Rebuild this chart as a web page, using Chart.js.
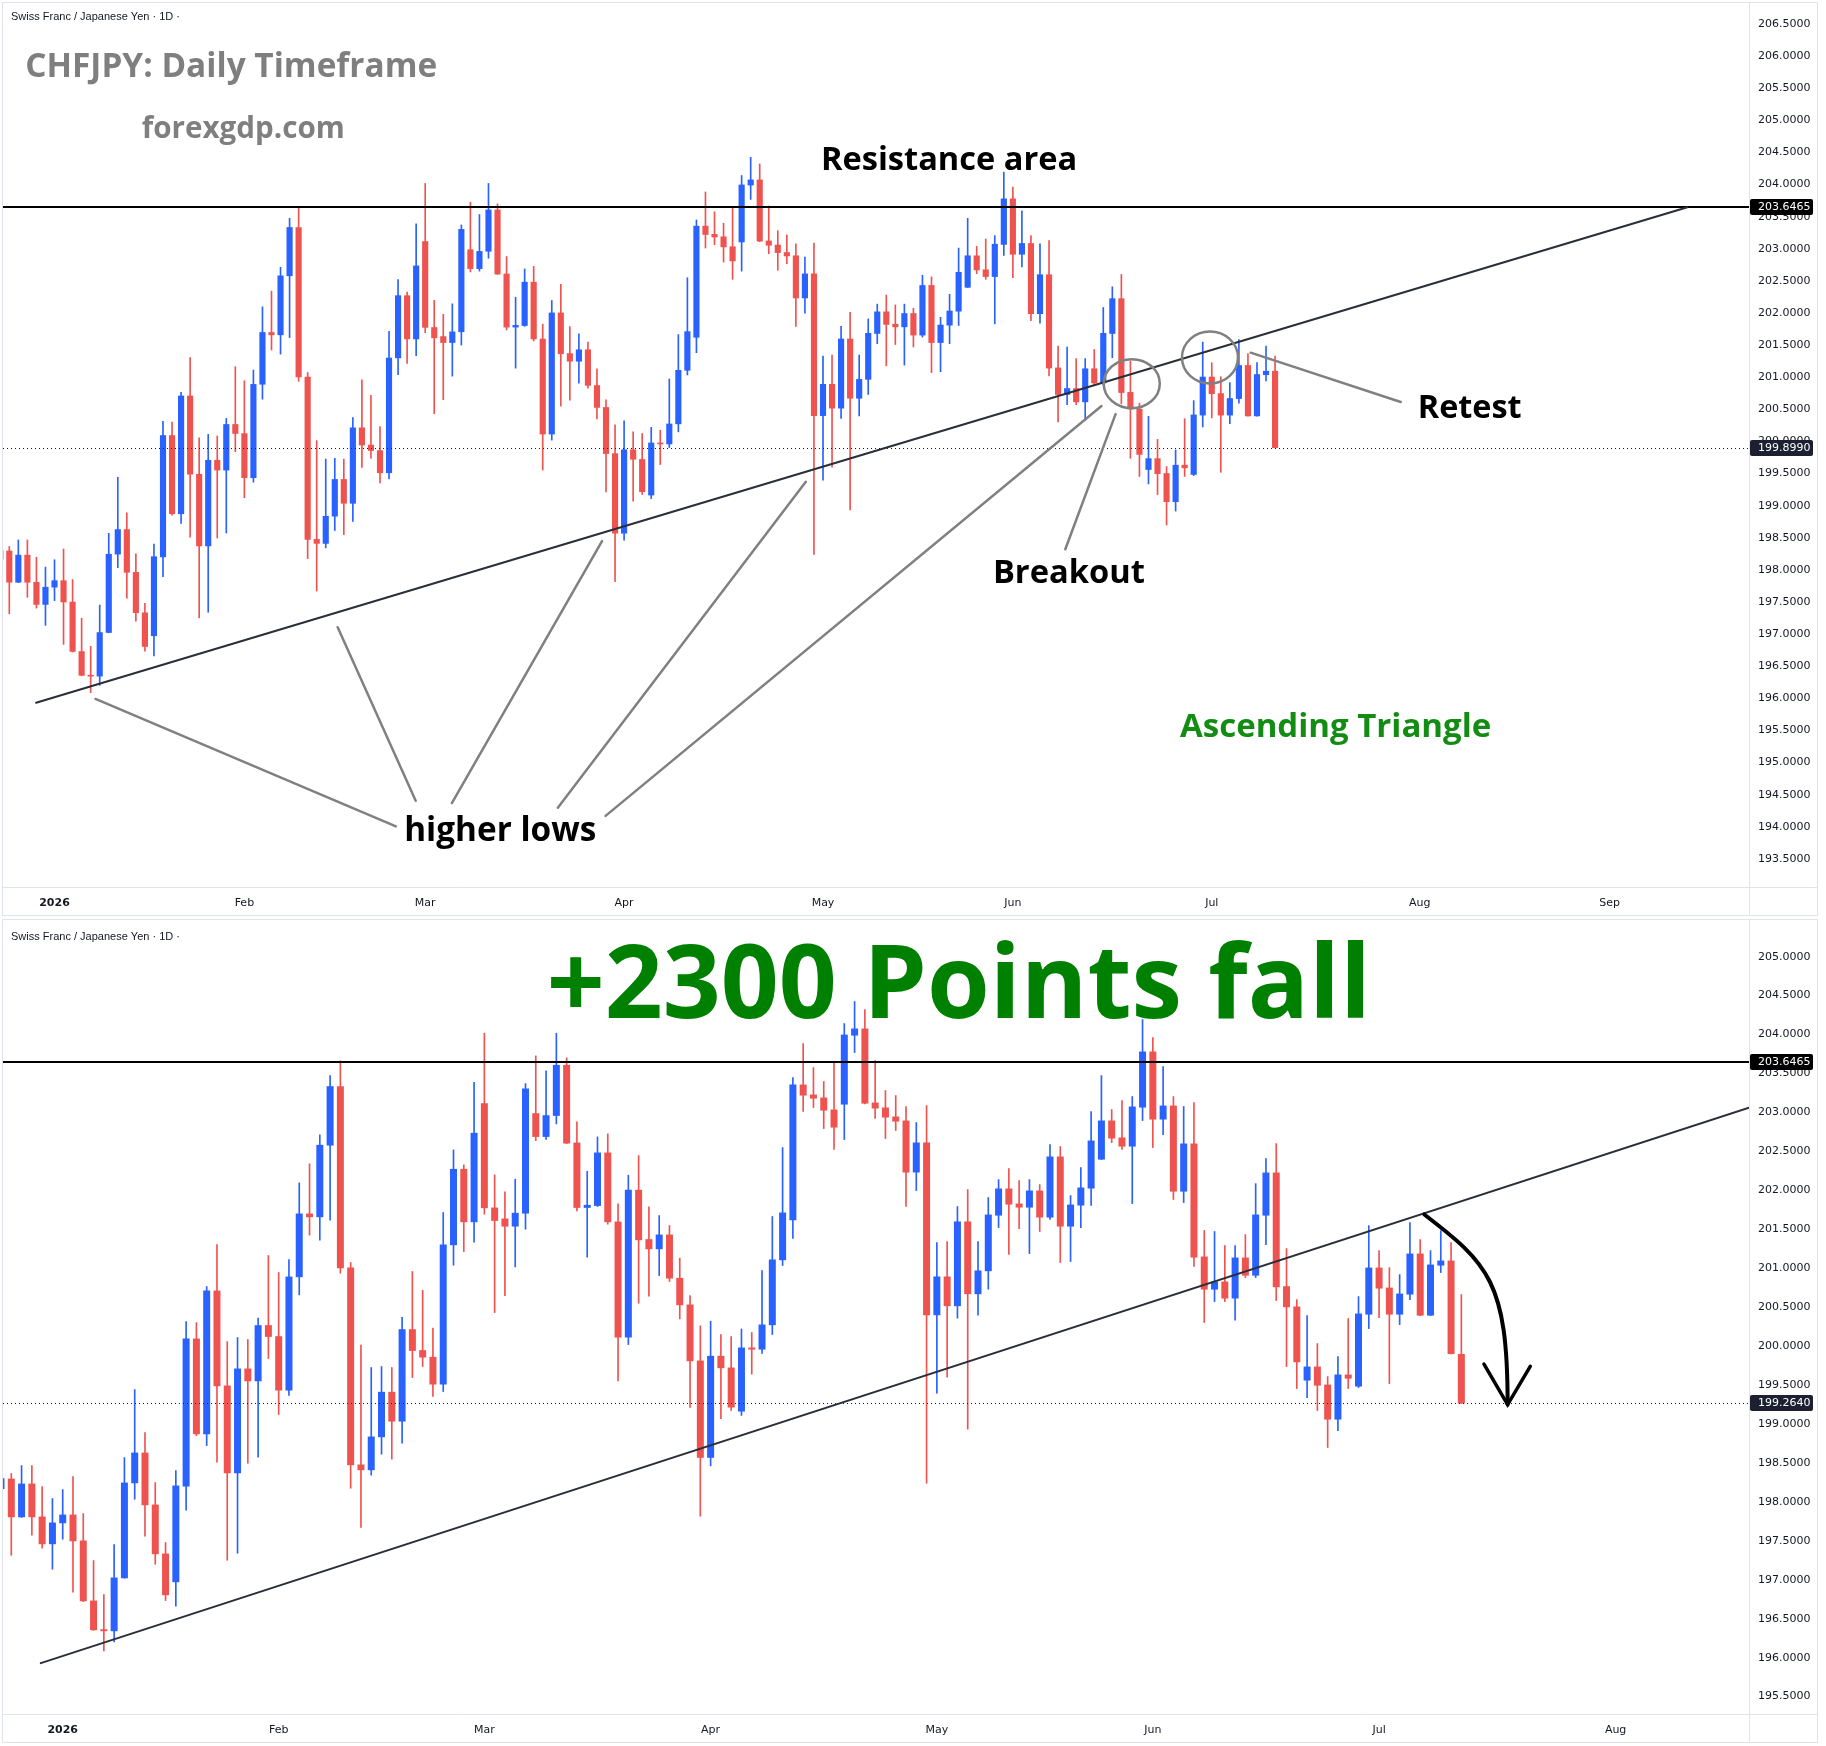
<!DOCTYPE html>
<html>
<head>
<meta charset="utf-8">
<script src="https://cdn.jsdelivr.net/npm/chart.js@4.4.1/dist/chart.umd.min.js"></script>
<style>
  html, body { margin: 0; padding: 0; background: #fff; }
  .panel { position: absolute; left: 2px; border: 1px solid #e0e3eb; }
  #p1 { top: 2px; }
  #p2 { top: 919px; }
  canvas { display: block; }
</style>
</head>
<body>
<div class="panel" id="p1"><canvas id="c1" width="1814" height="912"></canvas></div>
<div class="panel" id="p2"><canvas id="c2" width="1814" height="822"></canvas></div>
<script>
// CHFJPY daily candles, Dec 23 2025 .. Jul 13 2026 (trading days, index 0..142)
const opens = [
  198.167, 198.299, 197.803, 198.235, 197.812, 197.457, 197.726, 197.837, 197.504, 196.733,
  196.365, 196.340, 197.020, 198.240, 198.633, 197.966, 197.337, 196.969, 198.197, 200.097,
  198.869, 200.713, 199.494, 198.368, 199.712, 199.549, 200.269, 200.127, 199.430, 200.885,
  201.702, 201.655, 202.575, 203.337, 201.009, 198.480, 198.407, 198.831, 199.413, 199.032,
  200.217, 199.948, 199.862, 199.507, 201.296, 202.275, 201.591, 203.118, 201.779, 201.638,
  201.535, 201.702, 202.990, 202.686, 202.956, 203.610, 202.613, 201.775, 201.800, 202.485,
  201.599, 200.110, 202.006, 201.373, 201.244, 201.432, 200.876, 200.534, 199.815, 198.566,
  199.875, 199.725, 199.160, 199.982, 199.956, 200.269, 201.103, 201.617, 203.358, 203.230,
  203.191, 203.037, 203.101, 203.987, 204.077, 203.127, 203.063, 202.947, 202.896, 202.229,
  202.614, 200.397, 200.894, 200.513, 201.600, 200.667, 200.962, 201.676, 202.023, 201.830,
  201.779, 201.997, 201.651, 202.434, 201.535, 201.805, 202.023, 202.395, 202.896, 202.678,
  202.562, 203.063, 203.782, 202.909, 203.088, 201.984, 202.601, 201.150, 200.726, 200.829,
  200.611, 201.137, 200.905, 201.676, 202.228, 200.769, 200.508, 199.558, 199.737, 199.506,
  199.057, 199.635, 199.481, 200.405, 201.008, 200.751, 200.405, 200.662, 201.188, 200.392,
  201.034, 201.098, 199.899
];
const highs = [
  198.350, 198.364, 198.466, 198.466, 198.197, 198.043, 198.158, 198.325, 197.850, 197.247,
  196.810, 197.452, 198.569, 199.442, 198.890, 198.248, 197.478, 198.402, 200.315, 200.302,
  200.764, 201.304, 200.058, 200.110, 200.084, 200.359, 201.163, 200.945, 201.112, 202.096,
  202.340, 202.712, 203.474, 203.662, 201.073, 200.012, 199.725, 199.738, 199.725, 200.371,
  200.958, 200.718, 200.230, 201.715, 202.519, 202.327, 203.388, 204.017, 202.198, 201.980,
  202.143, 203.371, 203.726, 203.533, 204.017, 203.700, 202.879, 202.245, 202.686, 202.725,
  201.826, 202.194, 202.446, 201.787, 201.676, 201.548, 201.129, 200.649, 200.260, 200.320,
  200.149, 200.123, 200.220, 200.175, 200.971, 201.664, 202.549, 203.448, 203.884, 203.576,
  203.397, 203.653, 204.141, 204.424, 204.321, 203.666, 203.281, 203.217, 203.076, 202.870,
  203.089, 201.330, 201.343, 201.792, 202.010, 201.343, 201.908, 202.138, 202.280, 202.126,
  202.138, 202.074, 202.588, 202.562, 201.933, 202.292, 203.011, 203.473, 203.037, 203.152,
  203.204, 204.192, 203.961, 203.589, 203.204, 203.076, 203.127, 201.484, 201.471, 201.291,
  201.291, 201.432, 202.086, 202.407, 202.600, 201.252, 200.597, 200.392, 200.033, 199.609,
  199.866, 200.354, 200.636, 201.547, 201.226, 201.008, 200.918, 201.586, 201.368, 201.226,
  201.483, 201.329, 200.662
];
const lows = [
  198.100, 197.315, 197.800, 197.572, 197.405, 197.136, 197.521, 196.840, 196.720, 196.350,
  196.087, 196.203, 197.020, 198.034, 197.559, 197.200, 196.733, 196.661, 197.893, 198.850,
  198.723, 198.509, 197.251, 197.341, 198.496, 198.574, 199.841, 199.122, 199.366, 200.658,
  201.424, 201.360, 201.617, 200.936, 198.176, 197.671, 198.343, 198.613, 198.549, 198.754,
  199.597, 199.738, 199.353, 199.417, 201.039, 201.214, 201.334, 201.694, 200.431, 200.649,
  201.017, 201.501, 202.639, 202.652, 202.853, 202.600, 201.736, 201.141, 201.792, 201.565,
  199.554, 200.020, 200.551, 200.641, 200.906, 200.829, 200.350, 199.212, 197.817, 198.463,
  199.070, 199.173, 199.110, 199.640, 199.905, 200.149, 201.035, 201.381, 203.012, 203.063,
  202.793, 202.524, 202.652, 203.769, 203.110, 202.922, 202.665, 202.768, 201.792, 201.997,
  198.240, 199.396, 199.601, 200.359, 198.934, 200.397, 200.731, 201.522, 201.176, 201.509,
  201.188, 201.471, 201.625, 201.073, 201.086, 201.522, 201.805, 202.395, 202.613, 202.524,
  201.830, 202.896, 202.549, 202.716, 201.882, 201.843, 201.022, 200.303, 200.572, 200.572,
  200.332, 200.880, 200.880, 201.303, 200.585, 199.737, 199.455, 199.339, 199.173, 198.698,
  198.916, 199.455, 199.468, 200.225, 200.366, 199.519, 200.276, 200.597, 200.392, 200.392,
  200.944, 199.899, 199.264
];
const closes = [
  198.304, 197.803, 198.235, 197.803, 197.457, 197.735, 197.837, 197.495, 196.725, 196.353,
  196.340, 197.029, 198.248, 198.633, 197.957, 197.328, 196.802, 198.210, 200.097, 198.869,
  200.713, 199.485, 198.368, 199.712, 199.549, 200.269, 200.119, 199.430, 200.893, 201.702,
  201.655, 202.584, 203.337, 201.000, 198.471, 198.407, 198.839, 199.413, 199.032, 200.217,
  199.939, 199.854, 199.507, 201.304, 202.275, 201.591, 202.738, 201.771, 201.608, 201.535,
  201.711, 203.307, 202.686, 202.964, 203.610, 202.601, 201.775, 201.813, 202.485, 201.591,
  200.110, 202.006, 201.360, 201.244, 201.432, 200.868, 200.525, 199.806, 198.566, 199.875,
  199.717, 199.212, 199.982, 199.956, 200.277, 201.112, 201.715, 203.358, 203.217, 203.178,
  203.024, 202.806, 203.999, 204.077, 203.114, 203.050, 202.935, 202.883, 202.229, 202.614,
  200.397, 200.894, 200.513, 201.600, 200.667, 200.971, 201.689, 202.023, 201.817, 201.779,
  201.997, 201.651, 202.434, 201.535, 201.817, 202.036, 202.639, 202.896, 202.665, 202.562,
  203.076, 203.782, 202.909, 203.088, 201.984, 202.601, 201.137, 200.726, 200.829, 200.611,
  201.137, 200.905, 201.689, 202.228, 200.756, 200.499, 199.793, 199.737, 199.493, 199.057,
  199.635, 199.583, 200.418, 201.008, 200.739, 200.405, 200.674, 201.188, 200.392, 201.047,
  201.098, 199.899, 199.264
];

// month ticks (trading-day index of the first bar of each month)
const monthTickIdx = [6, 27, 47, 69, 91, 112, 134, 157, 178];
const monthTickLabels = ['2026', 'Feb', 'Mar', 'Apr', 'May', 'Jun', 'Jul', 'Aug', 'Sep'];

const topPriceTicks = [193.5, 194.0, 194.5, 195.0, 195.5, 196.0, 196.5, 197.0, 197.5, 198.0,
  198.5, 199.0, 199.5, 200.0, 200.5, 201.0, 201.5, 202.0, 202.5, 203.0, 203.5, 204.0, 204.5,
  205.0, 205.5, 206.0, 206.5];
const bottomPriceTicks = [195.5, 196.0, 196.5, 197.0, 197.5, 198.0, 198.5, 199.0, 199.5, 200.0,
  200.5, 201.0, 201.5, 202.0, 202.5, 203.0, 203.5, 204.0, 204.5, 205.0];

const resistance = 203.6465;

const BLUE = '#2962ff', RED = '#ef5350';
const HEADER = 'Swiss Franc / Japanese Yen \u00b7 1D \u00b7';

function fitFont(ctx, text, width, weight, family) {
  ctx.font = weight + ' 100px "' + family + '"';
  const w = ctx.measureText(text).width;
  return weight + ' ' + (100 * width / w).toFixed(1) + 'px "' + family + '"';
}

function overlay(d) {
  return {
    id: 'overlay',
    afterDatasetsDraw(chart) {
      const { ctx, chartArea: a } = chart;
      const X = v => chart.scales.x.getPixelForValue(v);
      const Y = v => chart.scales.y.getPixelForValue(v);
      const line = (pts, color, w) => {
        ctx.strokeStyle = color; ctx.lineWidth = w;
        ctx.beginPath();
        pts.forEach(([i, p], k) => k ? ctx.lineTo(X(i), Y(p)) : ctx.moveTo(X(i), Y(p)));
        ctx.stroke();
      };
      ctx.save();
      ctx.beginPath();
      ctx.rect(a.left, a.top, a.right - a.left, a.bottom - a.top);
      ctx.clip();

      // last price line
      const ly = Math.round(Y(d.last)) + 0.5;
      ctx.setLineDash([1, 3]);
      ctx.strokeStyle = '#131722'; ctx.lineWidth = 1;
      ctx.beginPath(); ctx.moveTo(a.left, ly); ctx.lineTo(a.right, ly); ctx.stroke();
      ctx.setLineDash([]);

      // resistance
      const ry = Math.round(Y(resistance));
      ctx.strokeStyle = '#000'; ctx.lineWidth = 2;
      ctx.beginPath(); ctx.moveTo(a.left, ry); ctx.lineTo(a.right, ry); ctx.stroke();

      // rising trend line
      ctx.lineCap = 'round';
      line(d.trend, '#2a2e39', 2);

      // gray pointers
      d.pointers.forEach(p => line(p, '#808080', 2.5));
      d.circles.forEach(([i, p, rx, ry2]) => {
        ctx.strokeStyle = '#808080'; ctx.lineWidth = 2.5;
        ctx.beginPath(); ctx.ellipse(X(i), Y(p), rx, ry2, 0, 0, Math.PI * 2); ctx.stroke();
      });

      // arrow
      if (d.arrow) {
        const [s, c1, c2, e] = d.arrow.curve;
        ctx.strokeStyle = '#000'; ctx.lineWidth = 4;
        ctx.beginPath();
        ctx.moveTo(X(s[0]), Y(s[1]));
        ctx.bezierCurveTo(X(c1[0]), Y(c1[1]), X(c2[0]), Y(c2[1]), X(e[0]), Y(e[1]));
        ctx.stroke();
        line(d.arrow.head, '#000', 3.5);
      }
      ctx.restore();

      // texts
      ctx.save();
      ctx.textAlign = 'center';
      ctx.textBaseline = 'alphabetic';
      d.texts.forEach(([t, i, p, w, color]) => {
        ctx.font = fitFont(ctx, t, w, 'bold', 'Open Sans');
        ctx.fillStyle = color;
        ctx.fillText(t, X(i), Y(p));
      });
      ctx.restore();
    },
    afterDraw(chart) {
      const { ctx, chartArea: a, width, height } = chart;
      const Y = v => chart.scales.y.getPixelForValue(v);
      ctx.save();
      ctx.strokeStyle = '#e0e3eb'; ctx.lineWidth = 1;
      ctx.beginPath();
      ctx.moveTo(a.right + 0.5, 0); ctx.lineTo(a.right + 0.5, height);
      ctx.moveTo(0, a.bottom + 0.5); ctx.lineTo(width, a.bottom + 0.5);
      ctx.stroke();

      const box = (price, bg) => {
        const y = Math.round(Y(price));
        ctx.fillStyle = bg;
        ctx.beginPath();
        ctx.roundRect(a.right + 1, y - 8, 63, 16, 2);
        ctx.fill();
        ctx.fillStyle = '#fff';
        ctx.font = '11px "DejaVu Sans"';
        ctx.textAlign = 'left'; ctx.textBaseline = 'middle';
        ctx.fillText(price.toFixed(4), a.right + 9, y + 0.5);
      };
      box(resistance, '#000');
      box(d.last, '#1c2030');

      ctx.fillStyle = '#131722';
      ctx.font = '11px "Liberation Sans"';
      ctx.textAlign = 'left'; ctx.textBaseline = 'middle';
      ctx.fillText(HEADER, 8, d.padTop + 14);
      ctx.restore();
    }
  };
}

function buildChart(id, cfg) {
  const idx = Array.from({ length: cfg.count }, (_, i) => i);
  const colors = idx.map(i => closes[i] >= opens[i] ? BLUE : RED);
  return new Chart(document.getElementById(id), {
    type: 'bar',
    data: {
      datasets: [
        {
          data: idx.map(i => ({ x: i, y: [opens[i], closes[i]] })),
          backgroundColor: colors, borderWidth: 0, grouped: false,
          barPercentage: 0.68, categoryPercentage: 1, minBarLength: 1, order: 1
        },
        {
          data: idx.map(i => ({ x: i, y: [lows[i], highs[i]] })),
          backgroundColor: colors, borderWidth: 0, grouped: false,
          barThickness: 1, order: 2
        }
      ]
    },
    options: {
      responsive: false,
      animation: false,
      devicePixelRatio: 1,
      events: [],
      layout: { autoPadding: false, padding: { top: cfg.padTop, left: 0, right: 0, bottom: 0 } },
      plugins: { legend: { display: false }, tooltip: { enabled: false } },
      scales: {
        x: {
          type: 'linear', min: cfg.xMin, max: cfg.xMax, offset: false,
          grid: { display: false, drawTicks: false }, border: { display: false },
          afterBuildTicks: s => { s.ticks = monthTickIdx.filter(v => v <= cfg.xMax).map(v => ({ value: v })); },
          afterFit: s => { s.height = 28; s.paddingLeft = 0; s.paddingRight = 0; s.paddingTop = 0; s.paddingBottom = 0; },
          ticks: {
            autoSkip: false, maxRotation: 0, padding: 10, color: '#131722',
            font: c => ({ family: 'DejaVu Sans', size: 11, weight: c.tick && c.tick.value === 6 ? 'bold' : 'normal' }),
            callback: v => monthTickLabels[monthTickIdx.indexOf(v)]
          }
        },
        y: {
          type: 'linear', position: 'right', min: cfg.yMin, max: cfg.yMax, beginAtZero: false,
          grid: { display: false, drawTicks: false }, border: { display: false },
          afterBuildTicks: s => { s.ticks = cfg.yTicks.map(v => ({ value: v })); },
          afterFit: s => { s.width = 68; s.paddingTop = 0; s.paddingBottom = 0; s.paddingLeft = 0; s.paddingRight = 0; },
          ticks: { padding: 9, color: '#131722', font: { family: 'DejaVu Sans', size: 11 }, callback: v => v.toFixed(4) }
        }
      }
    },
    plugins: [overlay(cfg)]
  });
}

const GRAY = '#7f7f7f', INK = '#000', GREEN = '#008000', GREEN2 = '#138c13';

buildChart('c1', {
  count: 142, last: closes[141], padTop: 0,
  xMin: 0.303, xMax: 193.42, yMin: 193.062, yMax: 206.827, yTicks: topPriceTicks,
  trend: [[3.96, 195.93], [186.6, 203.6465]],
  pointers: [
    [[43.76, 194.006], [10.53, 195.99]],
    [[45.95, 194.405], [37.32, 197.107]],
    [[49.95, 194.369], [66.56, 198.448]],
    [[61.67, 194.296], [89.10, 199.373]],
    [[66.95, 194.169], [121.8, 200.552]],
    [[117.8, 198.321], [123.36, 200.425]],
    [[138.3, 201.382], [154.9, 200.615]]
  ],
  circles: [[125.15, 200.90, 28, 24.5], [133.8, 201.306, 28, 26]],
  texts: [
    ['CHFJPY: Daily Timeframe', 25.54, 205.680, 412, GRAY],
    ['forexgdp.com', 26.88, 204.731, 203, GRAY],
    ['Resistance area', 104.94, 204.228, 256, INK],
    ['Retest', 162.53, 200.366, 104, INK],
    ['Breakout', 118.2, 197.801, 152, INK],
    ['Ascending Triangle', 147.7, 195.396, 311, GREEN2],
    ['higher lows', 55.3, 193.772, 192, INK]
  ]
});

buildChart('c2', {
  count: 143, last: closes[142], padTop: 3,
  xMin: 0.194, xMax: 169.97, yMin: 195.277, yMax: 205.432, yTicks: bottomPriceTicks,
  trend: [[3.87, 195.93], [169.97, 203.06]],
  pointers: [],
  circles: [],
  arrow: {
    curve: [[138.4, 201.69], [144.6, 201.06], [146.5, 200.83], [146.5, 199.25]],
    head: [[144.2, 199.77], [146.5, 199.25], [148.7, 199.74]]
  },
  texts: [
    ['+2300 Points fall', 93.13, 204.210, 824, GREEN]
  ]
});
</script>
</body>
</html>
